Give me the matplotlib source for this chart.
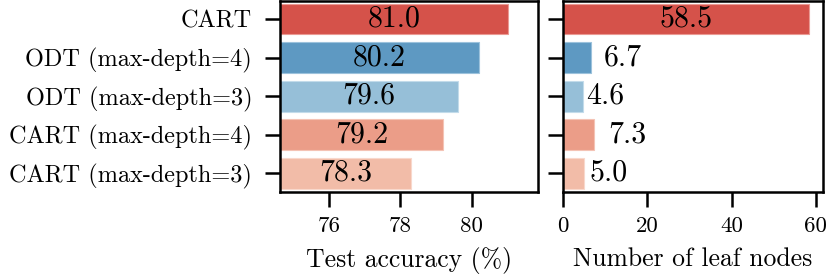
import matplotlib
matplotlib.use("Agg")
import matplotlib.pyplot as plt

plt.rcParams['font.family'] = ['cmr10', 'DejaVu Serif']
plt.rcParams['mathtext.fontset'] = 'cm'
plt.rcParams['axes.unicode_minus'] = False
plt.rcParams['axes.formatter.use_mathtext'] = False

methods = ["CART (max-depth=3)", "CART (max-depth=4)", "ODT (max-depth=3)",
           "ODT (max-depth=4)", "CART"]
accuracy = [78.3, 79.2, 79.6, 80.2, 81.0]
leaves = [5.0, 7.3, 4.6, 6.7, 58.5]
colors = ["#f2bca8", "#eb9d88", "#96bfd8", "#5e99c2", "#d5524a"]
edge_colors = ["#f8d8cc", "#f4c3b5", "#c2dbea", "#9cc2dc", "#ea9a93"]
acc_ticks = [76, 78, 80]
leaf_ticks = [0, 20, 40, 60]

fig = plt.figure(figsize=(8.29, 2.74), dpi=100)
ax1 = fig.add_axes([280/829, 1-191.7/274, 258/829, 191.2/274])
ax2 = fig.add_axes([563.3/829, 1-191.7/274, 259.4/829, 191.2/274])

y = list(range(len(methods)))
acc_lo, acc_hi = 74.63, 81.85
ax1.barh(y, accuracy, height=0.8, color=colors, edgecolor=edge_colors, linewidth=0.8)
ax1.set_xlim(acc_lo, acc_hi)
for yi, v in zip(y, accuracy):
    ax1.text((acc_lo + v) / 2, yi, f"{v:.1f}", ha="center", va="center", fontsize=21.5)
ax1.set_xticks(acc_ticks)
ax1.set_xticklabels([str(t) for t in acc_ticks])
ax1.set_yticks(y)
ax1.set_yticklabels(methods)
ax1.set_xlabel("Test accuracy (%)", fontsize=18.5, labelpad=8)

ax2.barh(y, leaves, height=0.8, color=colors, edgecolor=edge_colors, linewidth=0.8)
ax2.set_xlim(0, 61.66)
for yi, v in zip(y, leaves):
    if v > 30:
        ax2.text(v / 2, yi, f"{v:.1f}", ha="center", va="center", fontsize=21.5)
    else:
        ax2.text(2 * v + 0.7, yi, f"{v:.1f}", ha="center", va="center", fontsize=21.5)
ax2.set_xticks(leaf_ticks)
ax2.set_xticklabels([str(t) for t in leaf_ticks])
ax2.set_yticks(y)
ax2.set_yticklabels([])
ax2.set_xlabel("Number of leaf nodes", fontsize=18.5, labelpad=8)

for ax in (ax1, ax2):
    ax.set_ylim(-0.48, 4.48)
    for s in ax.spines.values():
        s.set_linewidth(1.8)
    ax.tick_params(axis="x", length=11, width=1.8, labelsize=16.5, pad=7)
    ax.tick_params(axis="y", length=11, width=1.8, labelsize=17.5, pad=9)

fig.savefig("out.png", dpi=100)
